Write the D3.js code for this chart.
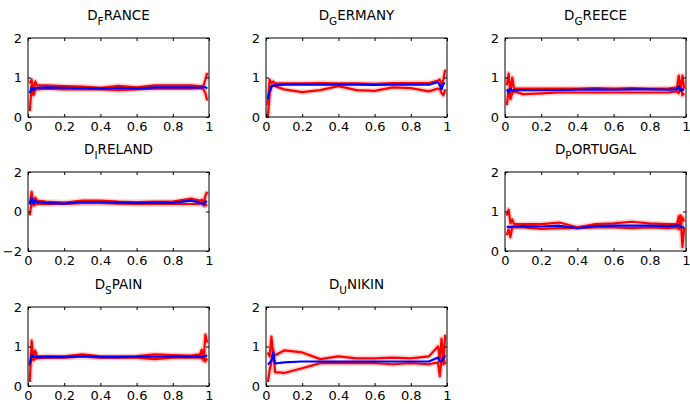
<!DOCTYPE html>
<html><head><meta charset="utf-8">
<script src="https://cdn.jsdelivr.net/npm/d3@7"></script>
<style>body{margin:0;background:#fff}svg{display:block}text{font-family:"DejaVu Sans",sans-serif}</style>
</head><body><svg id="c" width="690" height="404"></svg>
<script>
const xs = [0.01,0.02,0.03,0.04,0.05,0.1,0.2,0.3,0.4,0.5,0.6,0.7,0.8,0.9,0.95,0.96,0.97,0.98,0.99];
const xTicks = [0,0.2,0.4,0.6,0.8,1];
const xTickLabels = ["0","0.2","0.4","0.6","0.8","1"];

const franceUpper = [0.85,0.95,0.6,0.9,0.8,0.8,0.78,0.77,0.74,0.79,0.75,0.8,0.8,0.8,0.78,0.78,0.8,0.95,1.12];
const franceLower = [0.15,0.8,0.55,0.7,0.7,0.72,0.7,0.7,0.7,0.68,0.7,0.72,0.72,0.72,0.73,0.72,0.7,0.6,0.42];
const franceMid   = [0.6,0.75,0.68,0.74,0.74,0.75,0.74,0.73,0.72,0.74,0.72,0.75,0.75,0.75,0.74,0.75,0.75,0.76,0.72];

const germanyUpper = [0.3,0.95,0.85,0.9,0.85,0.85,0.85,0.86,0.85,0.85,0.84,0.86,0.86,0.86,0.92,0.95,0.8,0.95,1.2];
const germanyLower = [0.0,0.6,0.75,0.8,0.78,0.7,0.63,0.68,0.78,0.68,0.66,0.75,0.73,0.65,0.72,0.7,0.6,0.55,0.7];
const germanyMid   = [0.45,0.65,0.78,0.8,0.8,0.82,0.82,0.82,0.82,0.82,0.81,0.82,0.82,0.82,0.88,0.8,0.7,0.85,0.85];

const greeceUpper = [0.8,1.1,0.6,1.0,0.72,0.72,0.72,0.72,0.72,0.73,0.72,0.73,0.72,0.72,0.75,1.05,0.7,1.05,0.72];
const greeceLower = [0.3,0.7,0.45,0.6,0.65,0.58,0.6,0.62,0.62,0.62,0.62,0.62,0.62,0.62,0.65,0.6,0.85,0.55,0.6];
const greeceMid   = [0.7,0.62,0.72,0.66,0.68,0.68,0.68,0.68,0.69,0.7,0.69,0.7,0.7,0.69,0.7,0.78,0.66,0.7,0.68];

const irelandUpper = [0.4,1.0,0.3,0.7,0.55,0.5,0.45,0.55,0.55,0.5,0.48,0.5,0.5,0.65,0.55,0.6,0.3,0.8,1.0];
const irelandLower = [-0.2,0.5,0.6,0.35,0.4,0.38,0.38,0.42,0.42,0.4,0.38,0.38,0.38,0.38,0.38,0.45,0.55,0.3,0.35];
const irelandMid   = [0.35,0.7,0.4,0.55,0.48,0.44,0.4,0.48,0.48,0.45,0.43,0.44,0.44,0.55,0.45,0.4,0.38,0.5,0.5];

const portugalUpper = [0.9,1.05,0.7,0.8,0.68,0.68,0.68,0.72,0.6,0.68,0.7,0.74,0.7,0.68,0.68,0.88,0.6,0.85,0.75];
const portugalLower = [0.4,0.55,0.35,0.6,0.6,0.6,0.56,0.58,0.58,0.6,0.6,0.58,0.6,0.58,0.6,0.55,0.9,0.1,0.6];
const portugalMid   = [0.6,0.62,0.6,0.62,0.62,0.63,0.62,0.64,0.58,0.63,0.64,0.64,0.64,0.63,0.64,0.65,0.62,0.6,0.6];

const spainUpper = [0.1,1.15,0.7,0.9,0.75,0.76,0.75,0.8,0.75,0.75,0.76,0.8,0.78,0.77,0.8,0.92,0.65,1.3,1.1];
const spainLower = [0.5,0.8,0.65,0.7,0.7,0.72,0.72,0.74,0.72,0.72,0.72,0.68,0.72,0.72,0.72,0.7,0.85,0.62,0.7];
const spainMid   = [0.55,0.78,0.74,0.74,0.73,0.73,0.73,0.76,0.73,0.73,0.74,0.74,0.74,0.74,0.75,0.74,0.74,0.76,0.78];

const unikinUpper = [0.85,0.75,1.25,0.8,0.78,0.9,0.85,0.68,0.75,0.7,0.7,0.72,0.7,0.75,1.0,0.7,1.2,0.55,1.3];
const unikinLower = [0.1,0.4,0.6,0.9,0.35,0.33,0.45,0.58,0.58,0.58,0.58,0.55,0.58,0.55,0.6,0.25,0.7,0.7,0.55];
const unikinMid   = [0.55,0.58,0.65,0.85,0.57,0.6,0.62,0.62,0.62,0.62,0.62,0.62,0.62,0.62,0.72,0.62,0.62,0.7,0.78];

const panels = [
  {sub:"F", rest:"RANCE", row:0, col:0, yDom:[0,2], yTicks:[0,1,2], up:franceUpper, lo:franceLower, mid:franceMid},
  {sub:"G", rest:"ERMANY", row:0, col:1, yDom:[0,2], yTicks:[0,1,2], up:germanyUpper, lo:germanyLower, mid:germanyMid},
  {sub:"G", rest:"REECE", row:0, col:2, yDom:[0,2], yTicks:[0,1,2], up:greeceUpper, lo:greeceLower, mid:greeceMid},
  {sub:"I", rest:"RELAND", row:1, col:0, yDom:[-2,2], yTicks:[-2,0,2], up:irelandUpper, lo:irelandLower, mid:irelandMid},
  {sub:"P", rest:"ORTUGAL", row:1, col:2, yDom:[0,2], yTicks:[0,1,2], up:portugalUpper, lo:portugalLower, mid:portugalMid},
  {sub:"S", rest:"PAIN", row:2, col:0, yDom:[0,2], yTicks:[0,1,2], up:spainUpper, lo:spainLower, mid:spainMid},
  {sub:"U", rest:"NIKIN", row:2, col:1, yDom:[0,2], yTicks:[0,1,2], up:unikinUpper, lo:unikinLower, mid:unikinMid}
];

const colLeft = [28, 266, 505];
const rowTop = [38, 172, 307];
const W = 181, H = 79;
const svg = d3.select("#c");

panels.forEach(p => {
  const g = svg.append("g").attr("transform", `translate(${colLeft[p.col]},${rowTop[p.row]})`);
  const x = d3.scaleLinear().domain([0,1]).range([0,W]);
  const y = d3.scaleLinear().domain(p.yDom).range([H,0]);
  const line = d3.line().x((d,i)=>x(xs[i])).y(d=>y(d));
  g.append("defs").append("clipPath").attr("id","cl"+p.row+p.col)
    .append("rect").attr("x",0).attr("y",0).attr("width",W).attr("height",H);
  const pl = g.append("g").attr("clip-path",`url(#cl${p.row}${p.col})`);
  [p.up,p.lo].forEach(arr=>{
    pl.append("path").attr("d",line(arr)).attr("fill","none").attr("stroke","#ff0000").attr("stroke-opacity",0.18).attr("stroke-width",5.5).attr("stroke-linejoin","round");
  });
  [p.up,p.lo].forEach(arr=>{
    pl.append("path").attr("d",line(arr)).attr("fill","none").attr("stroke","#ff0000").attr("stroke-width",2.2).attr("stroke-linejoin","round");
  });
  pl.append("path").attr("d",line(p.mid)).attr("fill","none").attr("stroke","#0000ff").attr("stroke-width",2.2).attr("stroke-linejoin","round");
  const fmt = (d)=>xTickLabels[xTicks.indexOf(d)];
  const bx = g.append("g").attr("transform",`translate(0,${H})`)
    .call(d3.axisBottom(x).tickValues(xTicks).tickFormat(fmt).tickSizeInner(-3).tickSizeOuter(0).tickPadding(5));
  const tx = g.append("g").call(d3.axisTop(x).tickValues(xTicks).tickFormat("").tickSizeInner(-3).tickSizeOuter(0));
  const ly = g.append("g").call(d3.axisLeft(y).tickValues(p.yTicks).tickFormat(d=>d<0?"\u2212"+Math.abs(d):d).tickSizeInner(-3).tickSizeOuter(0).tickPadding(6));
  const ry = g.append("g").attr("transform",`translate(${W},0)`).call(d3.axisRight(y).tickValues(p.yTicks).tickFormat("").tickSizeInner(-3).tickSizeOuter(0));
  [bx,tx,ly,ry].forEach(a=>{
    a.select(".domain").remove();
    a.selectAll("line").attr("stroke","#000").attr("stroke-width",1);
    a.selectAll("text").attr("fill","#000").style("font-size","13px").style("font-family",'"DejaVu Sans",sans-serif');
  });
  g.append("rect").attr("x",0).attr("y",0).attr("width",W).attr("height",H).attr("fill","none").attr("stroke","#000").attr("stroke-width",1);
  const t = g.append("text").attr("x",W/2).attr("y",-18).attr("text-anchor","middle").style("font-size","13.5px");
  t.append("tspan").text("D");
  t.append("tspan").attr("dy",5).style("font-size","10.5px").text(p.sub);
  t.append("tspan").attr("dy",-5).text(p.rest);
});
</script></body></html>
